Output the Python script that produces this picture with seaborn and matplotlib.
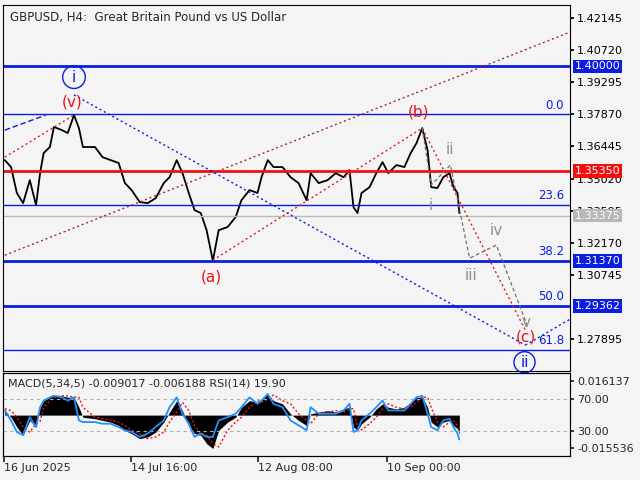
import matplotlib
matplotlib.use("Agg")
import matplotlib.pyplot as plt
import matplotlib.transforms as mtrans
import seaborn as sns
import pandas as pd

sns.set_theme(style="white")
plt.rcParams['font.family'] = ['DejaVu Sans']

days = [0.2,1.6,2.9,4.3,5.8,7.2,8.1,8.9,10.3,11.2,13.0,14.3,15.7,16.8,17.7,20.4,22.1,23.9,25.7,27.1,
        28.6,30.4,32.2,34.0,35.8,37.1,38.7,40.0,41.4,42.7,44.1,45.4,46.8,48.1,50.1,51.9,53.2,55.0,56.8,57.7,
        59.1,60.4,62.4,64.2,66.0,67.8,68.7,70.5,72.5,74.3,76.1,77.4,78.3,79.2,80.1,81.9,83.4,84.8,86.1,87.9,
        89.7,91.1,92.4,93.7,94.9,95.7,97.1,98.4,99.8,100.7,101.6,102.0]
price = [1.3584,1.3553,1.3438,1.3393,1.3495,1.3384,1.3526,1.3615,1.3642,1.3731,1.3717,1.3704,1.3784,1.3726,1.3642,1.3642,1.3597,1.3584,1.3571,1.3482,
         1.3451,1.3398,1.3393,1.3415,1.3482,1.3508,1.3584,1.3526,1.3438,1.3362,1.3349,1.3273,1.3137,1.3273,1.3287,1.3331,1.3406,1.3451,1.3438,1.3508,
         1.3584,1.3553,1.3553,1.3508,1.3482,1.3406,1.3526,1.3482,1.3495,1.3526,1.3508,1.3540,1.3375,1.3349,1.3438,1.3464,1.3526,1.3575,1.3526,1.3562,
         1.3553,1.3615,1.3659,1.3726,1.3627,1.3464,1.3460,1.3508,1.3526,1.3464,1.3438,1.3349]
macd = [0.0021,-0.0010,-0.0056,-0.0095,-0.0025,-0.0056,0.0037,0.0068,0.0084,0.0091,0.0091,0.0084,0.0084,0.0037,-0.0010,-0.0017,-0.0025,-0.0033,-0.0049,-0.0072,
        -0.0087,-0.0111,-0.0103,-0.0080,-0.0033,0.0014,0.0068,0.0021,-0.0049,-0.0087,-0.0095,-0.0134,-0.0157,-0.0072,-0.0033,-0.0010,0.0037,0.0068,0.0060,0.0076,
        0.0099,0.0068,0.0053,0.0006,-0.0025,-0.0049,0.0006,0.0014,0.0021,0.0014,0.0029,0.0037,-0.0056,-0.0072,-0.0041,-0.0010,0.0029,0.0053,0.0037,0.0029,
        0.0037,0.0060,0.0084,0.0084,0.0037,-0.0033,-0.0056,-0.0033,-0.0025,-0.0049,-0.0064,-0.0090]
signal = [0.0030,0.0021,-0.0010,-0.0056,-0.0080,-0.0040,-0.0030,0.0037,0.0068,0.0084,0.0091,0.0091,0.0084,0.0084,0.0037,-0.0010,-0.0017,-0.0025,-0.0033,-0.0049,
          -0.0072,-0.0087,-0.0111,-0.0103,-0.0080,-0.0033,0.0014,0.0060,0.0021,-0.0049,-0.0087,-0.0095,-0.0134,-0.0150,-0.0072,-0.0033,-0.0010,0.0037,0.0068,0.0060,
          0.0076,0.0095,0.0068,0.0053,0.0006,-0.0025,-0.0040,0.0006,0.0014,0.0021,0.0014,0.0029,0.0030,-0.0056,-0.0070,-0.0041,-0.0010,0.0029,0.0053,0.0037,
          0.0029,0.0037,0.0060,0.0084,0.0084,0.0037,-0.0033,-0.0056,-0.0033,-0.0025,-0.0049,-0.0062]
rsi = [55.5,43.3,29.2,25.2,47.3,35.2,59.5,67.6,71.6,73.6,71.6,67.6,71.6,43.3,41.3,41.3,39.3,39.3,35.2,31.2,
       29.2,23.1,27.2,35.2,43.3,59.5,71.6,51.5,39.3,23.1,27.2,23.1,23.1,43.3,47.3,51.5,59.5,71.6,63.6,67.6,
       75.7,63.6,59.5,43.3,37.3,31.2,59.5,51.5,51.5,51.5,55.5,63.6,29.2,31.2,43.3,51.5,59.5,67.6,55.5,55.5,
       55.5,63.6,71.6,73.6,51.5,35.2,31.2,43.3,45.4,35.2,27.2,19.9]

price_ticks = [1.42145,1.40720,1.39295,1.37870,1.36445,1.35020,1.33595,1.32170,1.30745,1.27895]
date_pos = [0, 28.4, 57.0, 85.7]
date_labels = ["16 Jun 2025", "14 Jul 16:00", "12 Aug 08:00", "10 Sep 00:00"]
fib_levels = [1.3787, 1.3384, 1.3137, 1.29362, 1.2742]
fib_names = ["0.0", "23.6", "38.2", "50.0", "61.8"]

BG = "#f4f4f4"
fig = plt.figure(figsize=(6.4, 4.8), dpi=100, facecolor=BG)
ax = fig.add_axes([0.0047, 0.227, 0.886, 0.7625], facecolor=BG)
ax2 = fig.add_axes([0.0047, 0.05, 0.886, 0.173], facecolor=BG)
XL = (-0.2, 126.8)

df = pd.DataFrame({"day": days, "price": price})
sns.lineplot(data=df, x="day", y="price", ax=ax, color="black", lw=1.3)

# horizontal levels
ax.axhline(1.40000, color="#0b1de0", lw=2)
ax.axhline(1.35350, color="#f01010", lw=2)
ax.axhline(1.33375, color="#b8b8b8", lw=1)
for lv in fib_levels:
    thick = lv in (1.3137, 1.29362)
    ax.axhline(lv, color="#0b1de0", lw=2 if thick else 1)
for lv, nm in zip(fib_levels, fib_names):
    ax.text(125.5, lv + 0.0012, nm, color="#0b1de0", fontsize=8.5, ha="right", va="bottom")

# wave / channel lines
ax.plot([0.2, 9.4], [1.3717, 1.3784], color="#0b1de0", ls=(0, (4, 2)), lw=1)
ax.plot([0.2, 15.7], [1.3597, 1.3784], color="#e02020", ls=(0, (1.5, 2)), lw=1)
ax.plot([15.7, 116.8], [1.3873, 1.2763], color="#0b1de0", ls=(0, (1.5, 2)), lw=1)
ax.plot([0.2, 126.8], [1.3162, 1.4152], color="#a03030", ls=(0, (1.5, 2)), lw=1)
ax.plot([46.8, 93.7, 116.8], [1.3140, 1.3726, 1.2829], color="#e02020", ls=(0, (1.5, 2)), lw=1)
ax.plot([93.7, 95.7, 100.0, 104.3, 110.3, 117.2], [1.3726, 1.3473, 1.3562, 1.3149, 1.3207, 1.2851],
        color="#707070", ls=(0, (3, 2)), lw=0.9)
ax.plot([116.8, 126.8], [1.2763, 1.2878], color="#0b1de0", ls=(0, (1.5, 2)), lw=1)

# wave labels
ax.text(15.7, 1.3952, "i", color="#0b1de0", fontsize=11, ha="center", va="center",
        bbox=dict(boxstyle="circle,pad=0.25", fc="none", ec="#0b1de0"))
ax.text(116.6, 1.2687, "ii", color="#0b1de0", fontsize=11, ha="center", va="center",
        bbox=dict(boxstyle="circle,pad=0.2", fc="none", ec="#0b1de0"))
for x, y, t, c in [(15.2, 1.3842, "(v)", "#f01010"), (92.8, 1.3797, "(b)", "#f01010"),
                   (46.5, 1.3064, "(a)", "#f01010"), (116.8, 1.2800, "(c)", "#f01010"),
                   (99.8, 1.3629, "ii", "#909090"), (95.7, 1.3384, "i", "#909090"),
                   (110.3, 1.3273, "iv", "#909090"), (104.7, 1.3073, "iii", "#909090"),
                   (117.0, 1.2865, "v", "#909090")]:
    ax.text(x, y, t, color=c, fontsize=11, ha="center", va="center")

ax.set_xlim(*XL)
ax.set_ylim(1.2648, 1.4272)
ax.yaxis.tick_right()
ax.set_yticks(price_ticks)
ax.set_yticklabels([f"{v:.5f}" for v in price_ticks], fontsize=8)
ax.set_xticks([])
ax.set_xlabel(""); ax.set_ylabel("")
ax.tick_params(axis="y", length=3, direction="out", pad=2, right=True, colors="black")
for s in ax.spines.values():
    s.set_color("black"); s.set_linewidth(0.8)
ax.text(0.012, 0.985, "GBPUSD, H4:  Great Britain Pound vs US Dollar", transform=ax.transAxes,
        fontsize=8.5, va="top", ha="left")

trans = mtrans.blended_transform_factory(ax.transAxes, ax.transData)
for lv, fc, tc in [(1.40000, "#0b1de0", "white"), (1.35350, "#f01010", "white"),
                   (1.33375, "#b8b8b8", "white"), (1.31370, "#0b1de0", "white"),
                   (1.29362, "#0b1de0", "white")]:
    ax.text(1.008, lv, f"{lv:.5f}", transform=trans, fontsize=8, color=tc, va="center", ha="left",
            bbox=dict(boxstyle="square,pad=0.15", fc=fc, ec="none"), clip_on=False)

# lower panel
axm = ax2.twinx()
axm.fill_between(days, macd, 0, color="black", lw=0)
axm.plot(days, signal, color="#f01010", ls=(0, (1.5, 1.5)), lw=1)
axm.set_ylim(-0.01926, 0.01986)
axm.set_yticks([0.016137, -0.015536])
axm.set_yticklabels(["0.016137", "-0.015536"], fontsize=8)
axm.tick_params(length=3, pad=2)
axm.grid(False)

dr = pd.DataFrame({"day": days, "rsi": rsi})
sns.lineplot(data=dr, x="day", y="rsi", ax=ax2, color="#1e90ff", lw=1.3, zorder=5)
ax2.set_zorder(axm.get_zorder() + 1); ax2.patch.set_visible(False)
axm.patch.set_facecolor(BG); axm.patch.set_visible(True)
ax2.axhline(70, color="#b0b0b0", ls=(0, (3, 3)), lw=0.8)
ax2.axhline(30, color="#b0b0b0", ls=(0, (3, 3)), lw=0.8)
ax2.set_ylim(-0.3, 101.5)
ax2.set_xlim(*XL)
ax2.yaxis.tick_right()
ax2.set_yticks([70, 30])
ax2.set_yticklabels(["70.00", "30.00"], fontsize=8)
ax2.tick_params(axis="y", length=3, pad=2, right=True)
axm.yaxis.set_ticks_position("right")
ax2.set_xticks(date_pos)
ax2.set_xticklabels(date_labels, fontsize=8, ha="left")
ax2.tick_params(axis="x", length=4, pad=1, bottom=True)
ax2.set_xlabel(""); ax2.set_ylabel("")
for s in list(ax2.spines.values()) + list(axm.spines.values()):
    s.set_color("black"); s.set_linewidth(0.8)
ax2.text(0.008, 0.93, "MACD(5,34,5) -0.009017 -0.006188 RSI(14) 19.90", transform=ax2.transAxes,
         fontsize=8, va="top", ha="left")

fig.savefig("out.png", dpi=100, facecolor=BG)
